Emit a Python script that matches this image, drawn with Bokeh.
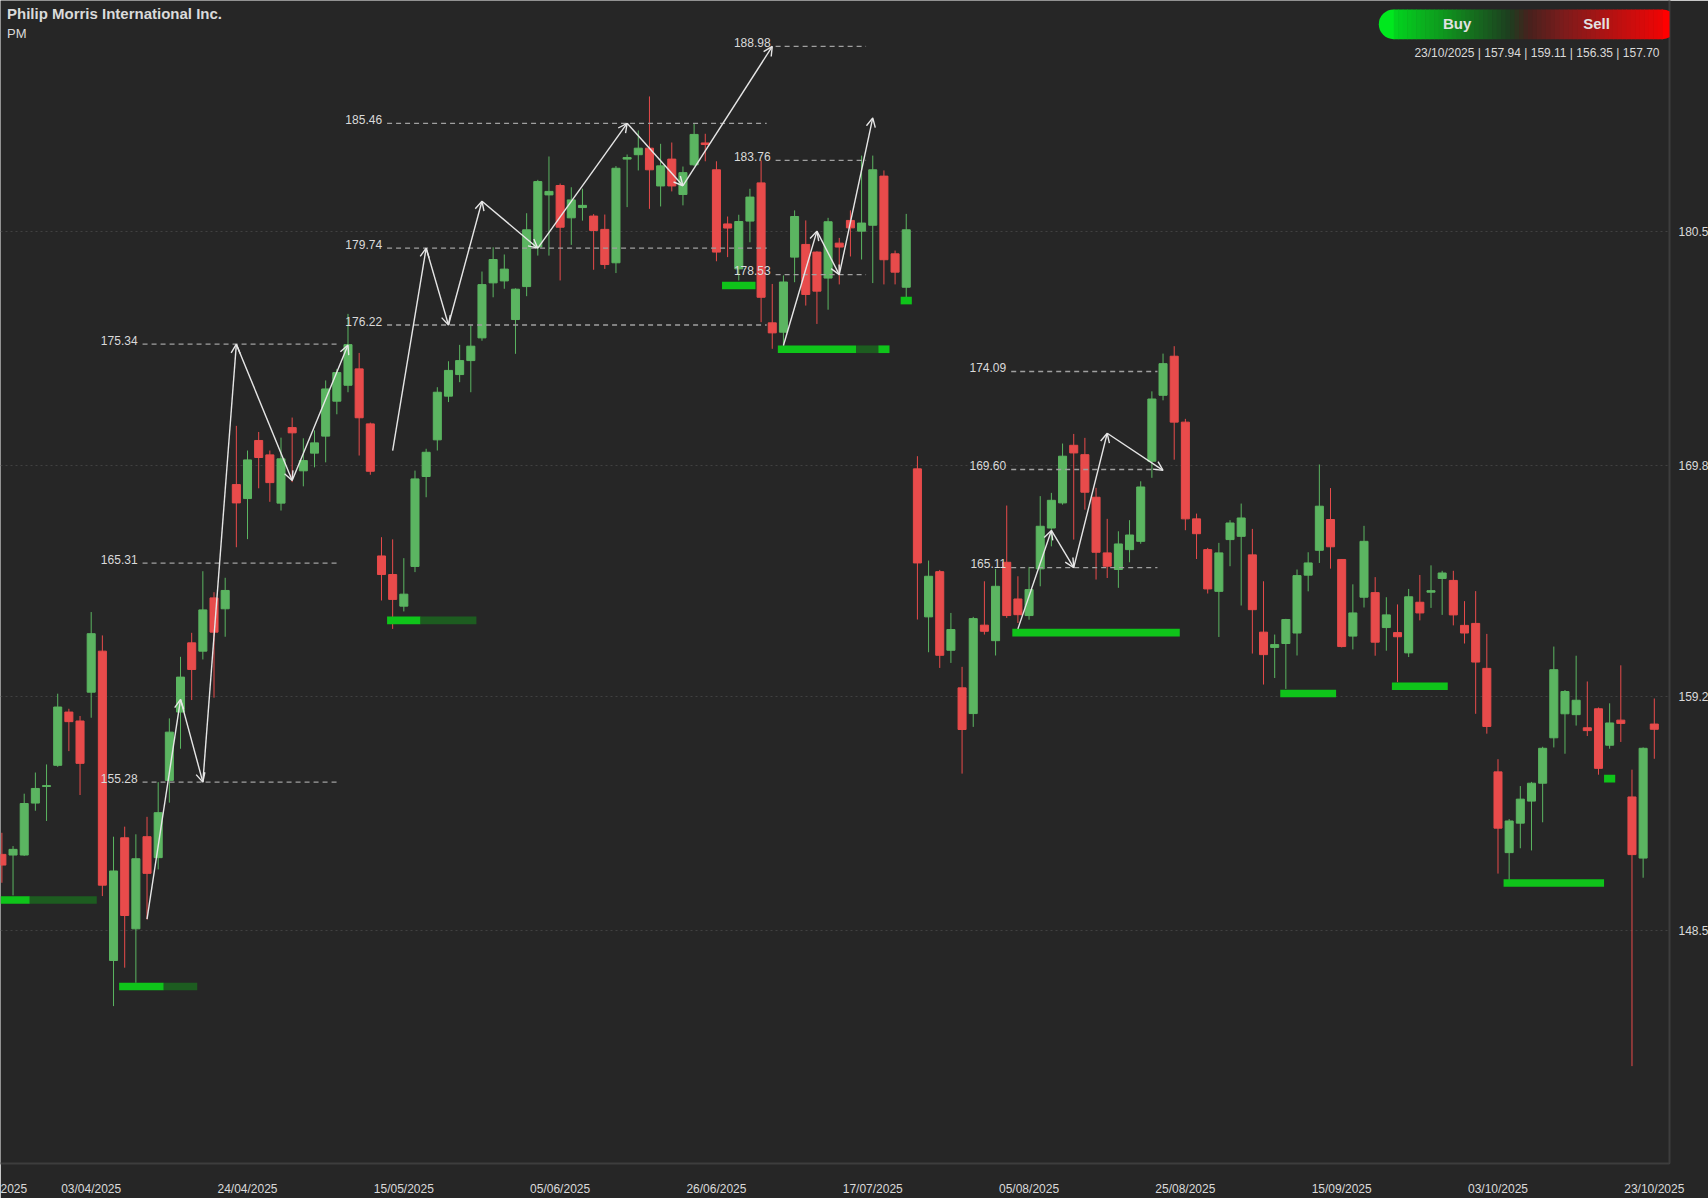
import numpy as np
from bokeh.plotting import figure
from bokeh.models import (ColumnDataSource, FixedTicker, Arrow, OpenHead, Label,
                          BoxAnnotation, Range1d)
from bokeh.core.properties import value
from bokeh.embed import file_html
from bokeh.resources import INLINE

# ---------------- data ----------------
opens = [151.97, 151.94, 151.94, 154.32, 155.08, 156.05, 158.49, 158.08, 159.40, 161.28,
         147.11, 152.73, 148.56, 152.78, 151.82, 155.36, 158.49, 161.66, 161.28, 163.72,
         163.22, 168.91, 168.27, 170.93, 170.27, 168.06, 171.52, 169.54, 170.35, 171.13,
         172.73, 173.46, 174.21, 171.69, 165.64, 164.79, 163.34, 165.16, 169.28, 170.96,
         172.96, 173.95, 174.59, 175.63, 178.15, 178.24, 176.47, 177.98, 179.79, 182.18,
         182.61, 181.13, 181.60, 181.21, 180.60, 179.07, 183.82, 184.02, 184.32, 182.59,
         183.82, 182.20, 183.56, 184.56, 183.33, 180.85, 178.79, 180.98, 182.73, 176.32,
         175.89, 179.33, 179.91, 179.56, 178.37, 179.97, 181.01, 180.52, 180.79, 183.04,
         179.48, 177.95, 169.63, 162.85, 164.92, 161.32, 159.60, 158.42, 162.47, 161.76,
         165.35, 163.67, 162.91, 165.05, 166.92, 168.07, 170.71, 170.28, 168.33, 165.78,
         165.02, 165.93, 166.31, 169.98, 173.00, 174.79, 171.77, 167.34, 165.93, 164.02,
         166.39, 166.54, 165.69, 162.15, 161.45, 161.63, 162.11, 164.76, 165.90, 167.31,
         165.48, 161.97, 163.75, 163.96, 162.36, 162.13, 161.20, 163.52, 163.98, 164.61,
         164.52, 162.46, 162.55, 160.49, 155.75, 152.05, 153.40, 154.41, 155.23, 157.31,
         158.41, 158.37, 157.77, 158.64, 156.97, 158.12, 154.60, 151.80, 157.94]
highs = [152.96, 152.35, 154.75, 155.72, 156.09, 159.33, 158.64, 158.31, 163.07, 162.00,
         152.78, 153.24, 152.89, 153.69, 155.28, 158.20, 161.02, 162.12, 164.94, 163.98,
         164.64, 171.60, 170.47, 171.32, 170.47, 171.06, 171.98, 171.03, 171.39, 173.68,
         174.21, 176.73, 174.94, 171.75, 166.50, 166.40, 165.54, 169.55, 170.55, 173.37,
         174.56, 175.31, 176.20, 178.67, 179.78, 179.45, 177.90, 181.34, 182.87, 183.94,
         182.70, 182.53, 182.46, 181.30, 181.28, 183.50, 184.03, 185.13, 186.69, 184.52,
         184.58, 183.48, 185.44, 184.98, 183.72, 181.19, 181.27, 182.46, 183.76, 178.10,
         178.49, 181.47, 181.01, 179.60, 181.13, 180.21, 181.47, 183.98, 183.98, 183.30,
         179.63, 181.31, 170.21, 165.43, 165.00, 163.03, 160.56, 162.85, 164.48, 165.05,
         167.95, 164.71, 165.14, 168.38, 168.53, 170.79, 171.23, 171.05, 168.76, 167.34,
         166.77, 167.28, 169.06, 173.18, 174.91, 175.25, 171.92, 167.58, 166.01, 166.24,
         167.28, 168.04, 166.88, 164.48, 162.04, 162.76, 165.02, 165.81, 169.83, 168.75,
         165.50, 164.34, 167.02, 164.67, 163.75, 163.42, 164.13, 164.77, 165.21, 164.96,
         164.96, 163.57, 164.03, 162.07, 156.33, 153.59, 155.10, 155.29, 156.90, 161.49,
         159.50, 161.07, 159.89, 158.70, 158.89, 160.63, 155.85, 156.87, 159.11]
lows = [150.67, 150.09, 151.90, 153.97, 153.50, 155.98, 156.70, 154.69, 158.23, 150.06,
        145.02, 146.78, 146.09, 148.99, 151.28, 154.34, 156.81, 159.04, 160.90, 159.15,
        161.94, 166.04, 166.41, 168.74, 168.12, 167.72, 169.02, 168.83, 169.70, 169.93,
        172.13, 173.14, 170.24, 169.36, 163.60, 162.30, 163.10, 164.90, 168.33, 170.47,
        172.69, 173.60, 173.14, 175.50, 177.49, 177.88, 174.90, 177.54, 179.40, 179.40,
        178.26, 179.89, 181.00, 178.75, 178.79, 178.60, 181.62, 183.30, 181.54, 181.65,
        182.34, 181.70, 183.50, 183.72, 179.14, 179.33, 178.26, 180.01, 176.35, 175.13,
        175.28, 178.18, 177.11, 176.27, 176.92, 178.08, 179.36, 179.22, 178.14, 178.08,
        178.08, 177.50, 162.73, 161.23, 160.51, 160.74, 155.67, 157.81, 162.04, 161.08,
        162.80, 162.57, 162.72, 164.25, 166.08, 167.99, 166.39, 167.76, 164.56, 164.63,
        164.18, 165.35, 166.20, 169.22, 172.77, 170.05, 166.82, 165.50, 163.92, 161.93,
        165.17, 163.37, 161.17, 159.75, 160.05, 159.55, 161.08, 164.02, 165.32, 165.06,
        161.45, 161.36, 163.28, 161.07, 161.30, 159.86, 161.01, 162.69, 163.26, 162.94,
        162.46, 161.63, 158.41, 157.50, 151.09, 150.80, 152.25, 152.15, 153.44, 156.87,
        156.58, 157.87, 157.39, 155.62, 156.81, 157.12, 142.27, 150.90, 156.35]
closes = [151.48, 152.20, 154.30, 154.99, 155.12, 158.72, 158.05, 156.14, 162.08, 150.56,
          151.21, 149.17, 151.77, 151.10, 153.88, 157.57, 160.09, 160.44, 163.17, 162.15,
          164.06, 168.07, 170.04, 170.15, 169.00, 170.09, 171.28, 170.01, 170.82, 173.29,
          174.04, 175.32, 171.97, 169.52, 164.79, 163.65, 163.89, 169.17, 170.39, 173.14,
          174.14, 174.59, 175.25, 178.07, 179.22, 178.78, 177.86, 180.58, 182.79, 182.34,
          180.70, 181.95, 181.70, 180.55, 178.99, 183.40, 183.89, 184.32, 183.33, 183.51,
          182.59, 183.20, 184.95, 184.49, 179.56, 180.66, 180.96, 182.08, 177.49, 175.86,
          178.19, 181.19, 177.62, 177.77, 180.95, 179.79, 180.67, 180.89, 183.33, 179.21,
          178.64, 180.58, 165.32, 164.71, 161.09, 162.27, 157.69, 162.77, 162.19, 164.25,
          162.91, 162.95, 164.10, 167.00, 168.19, 170.21, 170.36, 168.56, 165.81, 165.17,
          166.19, 166.60, 168.80, 172.83, 174.45, 171.77, 167.34, 166.66, 164.13, 165.78,
          167.15, 167.38, 163.18, 161.12, 161.58, 162.73, 164.74, 165.32, 167.92, 166.06,
          161.49, 163.03, 166.31, 161.69, 162.94, 161.94, 163.77, 163.03, 164.05, 164.86,
          162.94, 162.11, 160.78, 157.83, 153.17, 153.50, 154.50, 155.23, 156.83, 160.43,
          159.43, 159.03, 157.64, 155.91, 157.99, 157.97, 151.96, 156.83, 157.70]

date_tick_positions = [8, 22, 36, 50, 64, 78, 92, 106, 120, 134, 148]
date_tick_labels = ["03/04/2025", "24/04/2025", "15/05/2025", "05/06/2025", "26/06/2025",
                    "17/07/2025", "05/08/2025", "25/08/2025", "15/09/2025", "03/10/2025",
                    "23/10/2025"]
clipped_edge_label = "2025"
price_ticks = [148.5, 159.2, 169.8, 180.5]

level_values = [175.34, 165.31, 155.28, 185.46, 179.74, 176.22,
                188.98, 183.76, 178.53, 174.09, 169.60, 165.11]
level_start = [12.6, 12.6, 12.6, 34.5, 34.5, 34.5, 69.3, 69.3, 69.3, 90.4, 90.4, 90.4]
level_end = [30.2, 30.2, 30.2, 68.5, 68.5, 68.5, 77.4, 77.4, 77.4, 103.5, 103.5, 103.5]

zz1_x = [13, 16, 18, 21, 26, 31]
zz1_y = [149.00, 159.07, 155.28, 175.34, 169.10, 175.30]
zz2_x = [35, 38, 40, 43, 48, 56, 61, 69]
zz2_y = [170.47, 179.74, 176.22, 181.89, 179.74, 185.46, 182.60, 188.98]
zz3_x = [70, 73, 75, 78]
zz3_y = [175.28, 180.52, 178.53, 185.71]
zz4_x = [91, 94, 96, 99, 104]
zz4_y = [162.30, 166.81, 165.11, 171.26, 169.56]

support_level = [149.88, 149.88, 145.92, 145.92, 162.69, 162.69, 178.03, 175.11, 175.11,
                 175.11, 177.34, 162.13, 159.34, 159.67, 150.66, 155.44]
support_left = [-0.6, 2.5, 10.5, 14.5, 34.5, 37.5, 64.5, 69.5, 76.5, 78.5, 80.5, 90.5,
                114.5, 124.5, 134.5, 143.5]
support_right = [2.5, 8.5, 14.5, 17.5, 37.5, 42.5, 67.5, 76.5, 78.5, 79.5, 81.5, 105.5,
                 119.5, 129.5, 143.5, 144.5]
support_strong = [True, False, True, False, True, False, True, True, False, True, True,
                  True, True, True, True, True]

last_bar_text = "23/10/2025 | 157.94 | 159.11 | 156.35 | 157.70"

# ---------------- styling / layout ----------------
BG = "#262626"
GREEN = "#5bb561"
RED = "#e84b4b"
WHITE = "#e6e6e6"
TEXT = "#dadada"
FONT = "Liberation Sans"

PX_PER_BAR = 11.165
PX_PER_UNIT = 21.83
FRAME_W, FRAME_H = 1669, 1163
X_START = 8 - 90.7 / PX_PER_BAR
X_END = X_START + FRAME_W / PX_PER_BAR
Y_TOP = 191.085
Y_BOTTOM = Y_TOP - FRAME_H / PX_PER_UNIT

def cx(px):
    return X_START + px / PX_PER_BAR

def cy(py):
    return Y_TOP - py / PX_PER_UNIT

p = figure(frame_width=FRAME_W, frame_height=FRAME_H,
           x_range=Range1d(X_START, X_END), y_range=Range1d(Y_BOTTOM, Y_TOP),
           output_backend="svg", toolbar_location=None, y_axis_location="right",
           min_border_left=0, min_border_top=0, min_border_right=35, min_border_bottom=33,
           background_fill_color=BG, border_fill_color=BG, outline_line_color=None)

# axes
edge_tick = X_START + 0.001
p.xaxis.ticker = FixedTicker(ticks=[edge_tick] + date_tick_positions)
overrides = {t: l for t, l in zip(date_tick_positions, date_tick_labels)}
overrides[edge_tick] = clipped_edge_label
p.xaxis.major_label_overrides = overrides
p.yaxis.ticker = FixedTicker(ticks=price_ticks)
for ax in (p.xaxis, p.yaxis):
    ax.axis_line_color = "#3d3d3d"
    ax.axis_line_width = 2
    ax.major_tick_line_color = None
    ax.minor_tick_line_color = None
    ax.major_label_text_color = TEXT
    ax.major_label_text_font = FONT
    ax.major_label_text_font_size = "12px"
p.xaxis.major_label_standoff = 12
p.yaxis.major_label_standoff = 3
p.xgrid.grid_line_color = None
p.ygrid.ticker = FixedTicker(ticks=price_ticks)
p.ygrid.grid_line_color = "#414141"
p.ygrid.grid_line_dash = "2 3"
p.ygrid.grid_line_width = 1

# candles
o = np.array(opens); h = np.array(highs); l = np.array(lows); c = np.array(closes)
idx = np.arange(len(o))
colors = np.where(c >= o, GREEN, RED)
src = ColumnDataSource(dict(x=idx, high=h, low=l, top=np.maximum(o, c),
                            bottom=np.minimum(o, c), color=colors))
p.segment(x0="x", y0="low", x1="x", y1="high", line_color="color", line_width=1, source=src)
p.vbar(x="x", width=0.72, top="top", bottom="bottom", fill_color="color",
       line_color="color", line_width=1, source=src)

# support bars
sup_src = ColumnDataSource(dict(y=support_level, left=support_left, right=support_right,
                                color=["#0fc41a" if s else "#1d5c20" for s in support_strong]))
p.hbar(y="y", left="left", right="right", height=0.35, fill_color="color",
       line_color=None, source=sup_src)

# dashed levels with labels
lev_src = ColumnDataSource(dict(x0=level_start, x1=level_end, y=level_values,
                                txt=[f"{v:.2f}" for v in level_values]))
p.segment(x0="x0", y0="y", x1="x1", y1="y", line_color="#a0a0a0", line_width=1.3,
          line_dash="5 4", source=lev_src)
p.text(x="x0", y="y", text="txt", text_align="right", text_baseline="middle",
       x_offset=-5, y_offset=-4, text_font=value(FONT), text_font_size="12px",
       text_color=TEXT, source=lev_src)

# zigzag arrows
ax0, ay0, ax1, ay1 = [], [], [], []
for zx, zy in ((zz1_x, zz1_y), (zz2_x, zz2_y), (zz3_x, zz3_y), (zz4_x, zz4_y)):
    for k in range(len(zx) - 1):
        ax0.append(zx[k]); ay0.append(zy[k]); ax1.append(zx[k + 1]); ay1.append(zy[k + 1])
arr_src = ColumnDataSource(dict(x0=ax0, y0=ay0, x1=ax1, y1=ay1))
p.add_layout(Arrow(end=OpenHead(size=9, line_color=WHITE, line_width=1.4),
                   x_start="x0", y_start="y0", x_end="x1", y_end="y1",
                   line_color=WHITE, line_width=1.4, source=arr_src))

# titles / info texts
p.add_layout(Label(x=cx(6.5), y=cy(13), text="Philip Morris International Inc.",
                   text_font=FONT, text_font_size="15px", text_font_style="bold",
                   text_color=TEXT, text_baseline="middle", text_align="left"))
p.add_layout(Label(x=cx(6.5), y=cy(32.5), text="PM", text_font=FONT,
                   text_font_size="13px", text_color=TEXT, text_baseline="middle"))
p.add_layout(Label(x=cx(1659), y=cy(52.5), text=last_bar_text, text_font=FONT,
                   text_font_size="12px", text_color=TEXT, text_baseline="middle",
                   text_align="right"))

# Buy / Sell gradient pill
BL, BR, BT, BB = 1378.3, 1676.7, 9.0, 38.7
stops = [(0.0, (0, 232, 30)), (0.22, (15, 150, 30)), (0.44, (30, 62, 32)),
         (0.5, (70, 34, 30)), (0.62, (125, 28, 28)), (0.85, (205, 14, 14)),
         (1.0, (255, 0, 0))]

def grad(t):
    for (t0, c0), (t1, c1) in zip(stops[:-1], stops[1:]):
        if t <= t1:
            f = (t - t0) / (t1 - t0)
            return "#%02x%02x%02x" % tuple(int(a + (b - a) * f) for a, b in zip(c0, c1))
    return "#ff0000"

cap = 15.0
n = 60
inner = (BR - BL - 2 * cap) / n
p.add_layout(BoxAnnotation(left=cx(BL), right=cx(BL + cap + 0.6), top=cy(BT),
                           bottom=cy(BB), fill_color=grad(0.0), fill_alpha=1,
                           line_color=None, border_radius=(15, 0, 0, 15)))
p.add_layout(BoxAnnotation(left=cx(BR - cap - 0.6), right=cx(BR), top=cy(BT),
                           bottom=cy(BB), fill_color=grad(1.0), fill_alpha=1,
                           line_color=None, border_radius=(0, 15, 15, 0)))
for k in range(n):
    x0 = BL + cap + k * inner
    t = (x0 + inner / 2 - BL) / (BR - BL)
    p.add_layout(BoxAnnotation(left=cx(x0), right=cx(x0 + inner + 0.6),
                               top=cy(BT), bottom=cy(BB), fill_color=grad(t),
                               fill_alpha=1, line_color=None))
p.add_layout(Label(x=cx(1456.7), y=cy(22.8), text="Buy", text_font=FONT,
                   text_font_size="15px", text_font_style="bold", text_color="#e2e2e2",
                   text_align="center", text_baseline="middle"))
p.add_layout(Label(x=cx(1596), y=cy(22.8), text="Sell", text_font=FONT,
                   text_font_size="15px", text_font_style="bold", text_color="#e2e2e2",
                   text_align="center", text_baseline="middle"))

open("out.html", "w").write(file_html(p, INLINE))
